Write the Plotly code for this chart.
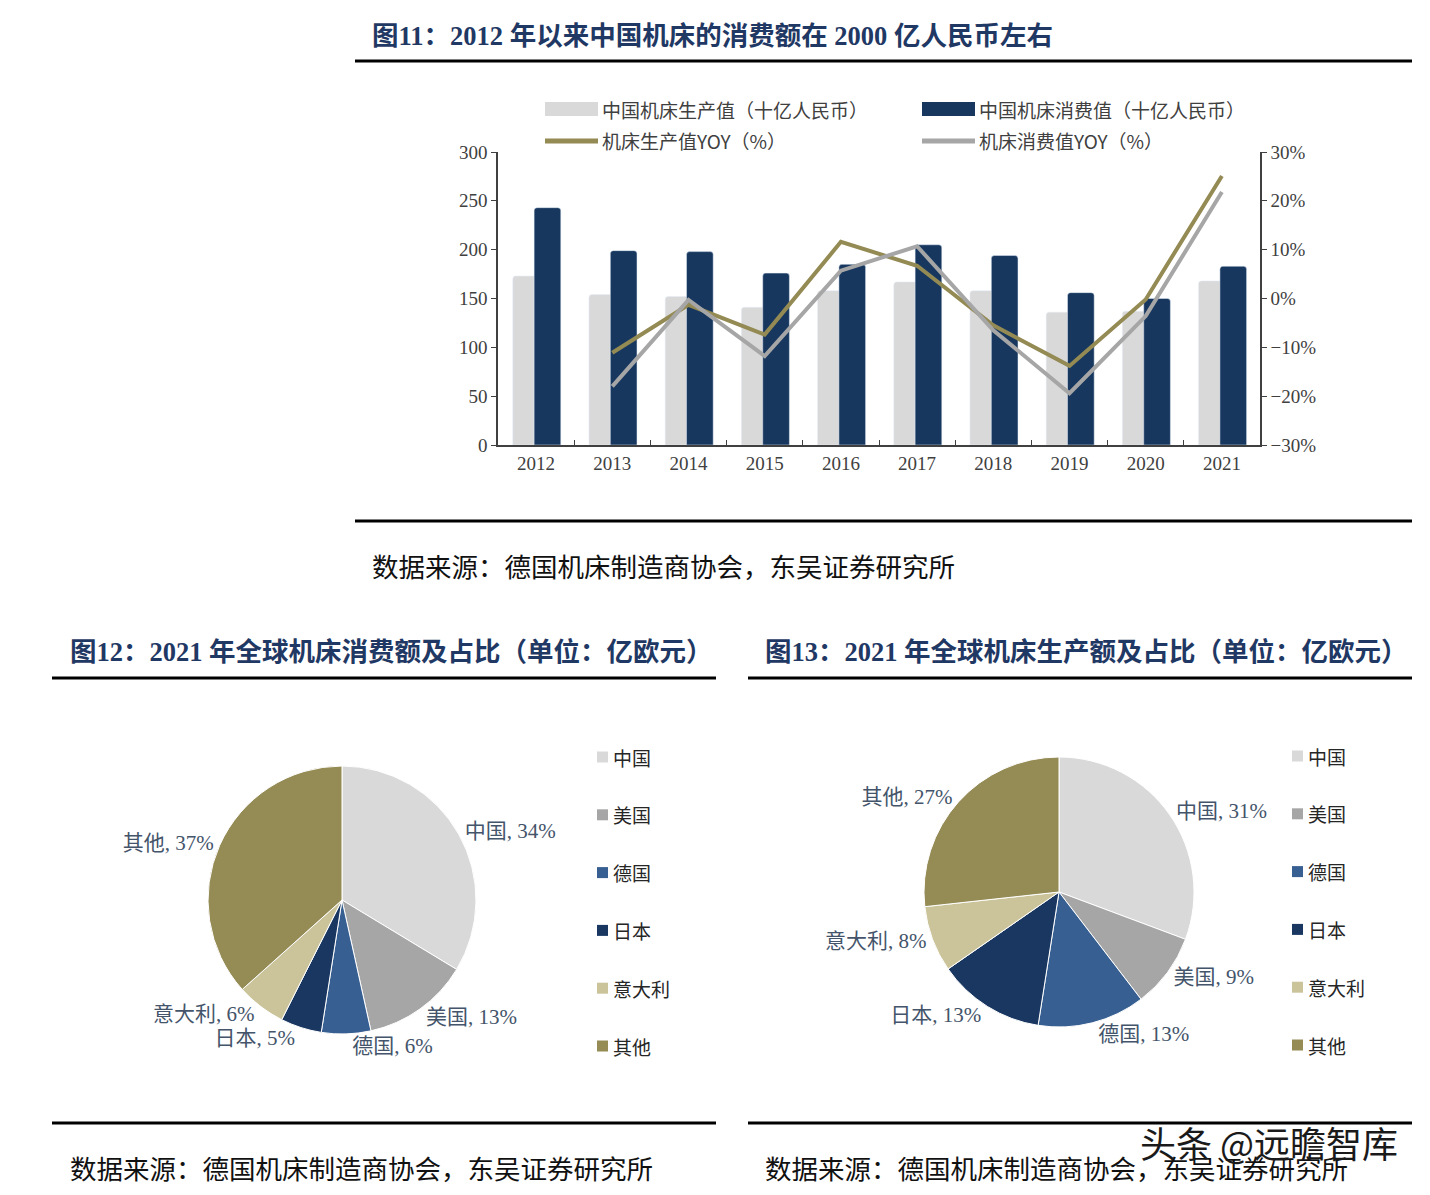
import plotly.graph_objects as go

W, H = 1430, 1195

# ---------------- data ----------------
years = ["2012", "2013", "2014", "2015", "2016", "2017", "2018", "2019", "2020", "2021"]
production = [173, 154, 152, 141, 158, 167, 158, 136, 137, 168]
consumption = [243, 199, 198, 176, 185, 205, 194, 156, 150, 183]
prod_yoy = [None, -11.1, -1.3, -7.4, 11.6, 6.7, -5.5, -13.8, -0.2, 25.1]
cons_yoy = [None, -18.0, -0.3, -11.8, 5.7, 10.7, -6.5, -19.4, -3.6, 21.8]

series_names = ["中国机床生产值（十亿人民币）", "中国机床消费值（十亿人民币）",
                "机床生产值YOY（%）", "机床消费值YOY（%）"]

pie_labels = ["中国", "美国", "德国", "日本", "意大利", "其他"]
consumption_share = [34, 13, 6, 5, 6, 37]
production_share = [31, 9, 13, 13, 8, 27]

left_ticks = [0, 50, 100, 150, 200, 250, 300]
right_ticks = [-30, -20, -10, 0, 10, 20, 30]
right_tick_text = ["−30%", "−20%", "−10%", "0%", "10%", "20%", "30%"]

title_top = "图11：2012 年以来中国机床的消费额在 2000 亿人民币左右"
title_left = "图12：2021 年全球机床消费额及占比（单位：亿欧元）"
title_right = "图13：2021 年全球机床生产额及占比（单位：亿欧元）"
source_text = "数据来源：德国机床制造商协会，东吴证券研究所"
watermark = "头条 @远瞻智库"

# ---------------- styles ----------------
C_GRAY_BAR = "#D9D9D9"
C_NAVY = "#17375E"
C_OLIVE = "#948A54"
C_GRAY_LINE = "#A6A6A6"
pie_colors = ["#D9D9D9", "#A6A6A6", "#375F92", "#193761", "#CBC49B", "#958B55"]
TITLE_C = "#1F3864"
SERIF = "Liberation Serif, Noto Sans CJK SC, serif"
CJK = "Noto Sans CJK SC, Liberation Serif, serif"


def px(x):
    return x / W


def py(y):
    return 1 - y / H


fig = go.Figure()

# ---------------- top combo chart ----------------
fig.add_trace(go.Bar(x=years, y=production, name=series_names[0], marker_color=C_GRAY_BAR,
                     width=0.35, offset=-0.306, xaxis="x", yaxis="y", showlegend=False))
fig.add_trace(go.Bar(x=years, y=consumption, name=series_names[1], marker_color=C_NAVY,
                     width=0.35, offset=-0.026, xaxis="x", yaxis="y", showlegend=False))
fig.add_trace(go.Scatter(x=years, y=prod_yoy, name=series_names[2], mode="lines",
                         line=dict(color=C_OLIVE, width=4), xaxis="x", yaxis="y2", showlegend=False))
fig.add_trace(go.Scatter(x=years, y=cons_yoy, name=series_names[3], mode="lines",
                         line=dict(color=C_GRAY_LINE, width=4), xaxis="x", yaxis="y2", showlegend=False))

# ---------------- pies ----------------
def add_pie(values, cx, cy, r):
    fig.add_trace(go.Pie(
        labels=pie_labels, values=values, sort=False, direction="clockwise", rotation=0,
        marker=dict(colors=pie_colors, line=dict(color="white", width=1)),
        texttemplate="%{label}, %{value}%", textposition="outside",
        textfont=dict(family=SERIF, size=21, color="#44546A"),
        domain=dict(x=[px(cx - r), px(cx + r)], y=[py(cy + r), py(cy - r)]),
        showlegend=False, hoverinfo="label+value"))

add_pie(consumption_share, 342, 900, 134)
add_pie(production_share, 1059, 892, 135)

tickfont = dict(family=SERIF, size=19, color="#404040")
fig.update_layout(
    width=W, height=H, margin=dict(l=0, r=0, t=0, b=0, autoexpand=False),
    paper_bgcolor="white", plot_bgcolor="white",
    barmode="overlay", barcornerradius=3,
    xaxis=dict(domain=[px(498), px(1260)], anchor="y", type="category", automargin=False,
               showline=True, linecolor="#404040", linewidth=1.5,
               ticks="inside", tickson="boundaries", ticklen=5, tickcolor="#404040",
               tickfont=tickfont, showgrid=False),
    yaxis=dict(domain=[py(445), py(152)], range=[0, 300], tickvals=left_ticks, automargin=False,
               showline=True, linecolor="#404040", linewidth=1.5, ticks="outside",
               ticklen=5, tickcolor="#404040", tickfont=tickfont, showgrid=False,
               zeroline=False),
    yaxis2=dict(overlaying="y", side="right", anchor="x", range=[-30, 30], automargin=False,
                tickvals=right_ticks, ticktext=right_tick_text,
                showline=True, linecolor="#404040", linewidth=1.5,
                ticks="outside", ticklen=5, tickcolor="#404040", tickfont=tickfont,
                showgrid=False, zeroline=False),
    showlegend=False,
)

shapes = []
ann = []

# top legend (manual)
leg_items = [
    (545, 109, series_names[0], C_GRAY_BAR, "rect"),
    (922, 109, series_names[1], C_NAVY, "rect"),
    (545, 141, series_names[2], C_OLIVE, "line"),
    (922, 141, series_names[3], C_GRAY_LINE, "line"),
]
for x0, yc, name, col, kind in leg_items:
    if kind == "rect":
        shapes.append(dict(type="rect", xref="paper", yref="paper", x0=px(x0), x1=px(x0 + 53),
                           y0=py(yc + 7), y1=py(yc - 7), fillcolor=col, line=dict(width=0)))
    else:
        shapes.append(dict(type="line", xref="paper", yref="paper", x0=px(x0), x1=px(x0 + 53),
                           y0=py(yc), y1=py(yc), line=dict(color=col, width=5)))
    ann.append(dict(x=px(x0 + 55), y=py(yc), xref="paper", yref="paper", text=name,
                    showarrow=False, xanchor="left", yanchor="middle",
                    font=dict(family=CJK, size=19, color="#404040")))

# pie legends (manual)
for lx, ly0 in [(597, 757), (1292, 756)]:
    for i, (lab, col) in enumerate(zip(pie_labels, pie_colors)):
        yc = ly0 + i * 57.8
        shapes.append(dict(type="rect", xref="paper", yref="paper", x0=px(lx), x1=px(lx + 11),
                           y0=py(yc + 5.5), y1=py(yc - 5.5), fillcolor=col, line=dict(width=0)))
        ann.append(dict(x=px(lx + 14), y=py(yc), xref="paper", yref="paper", text=lab,
                        showarrow=False, xanchor="left", yanchor="middle",
                        font=dict(family=CJK, size=19, color="#262626")))

# rules
for x0, x1, y in [(355, 1412, 61), (355, 1412, 521), (52, 716, 678), (748, 1412, 678),
                  (52, 716, 1123), (748, 1412, 1123)]:
    shapes.append(dict(type="line", xref="paper", yref="paper", x0=px(x0), x1=px(x1),
                       y0=py(y), y1=py(y), line=dict(color="black", width=3)))

# titles
for x, y, t in [(370, 36, title_top), (68, 652, title_left), (763, 652, title_right)]:
    ann.append(dict(x=px(x), y=py(y), xref="paper", yref="paper", text="<b>" + t + "</b>",
                    showarrow=False, xanchor="left", yanchor="middle",
                    font=dict(family=SERIF, size=26.5, color=TITLE_C)))

# sources
for x, y in [(370, 565), (68, 1167), (763, 1167)]:
    ann.append(dict(x=px(x), y=py(y), xref="paper", yref="paper", text=source_text,
                    showarrow=False, xanchor="left", yanchor="middle",
                    font=dict(family=CJK, size=26.5, color="#111111")))

# watermark
ann.append(dict(x=px(1400), y=py(1142), xref="paper", yref="paper", text=watermark,
                showarrow=False, xanchor="right", yanchor="middle",
                font=dict(family=CJK, size=36, color="#1a1a1a")))

fig.update_layout(shapes=shapes, annotations=ann)
fig.write_html("out.html", config={"displayModeBar": False},
               post_script="document.body.style.margin='0';")
